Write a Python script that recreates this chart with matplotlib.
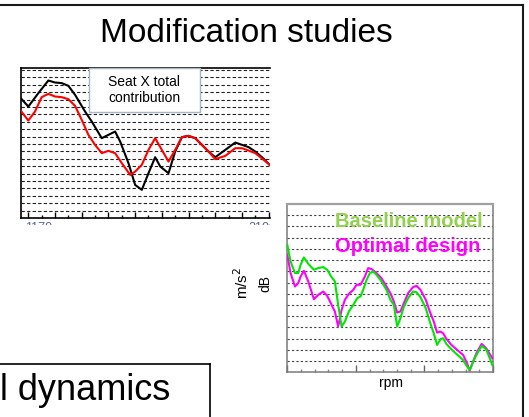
"""
Modification studies slide — two cropped response plots in one frame.
"""
import matplotlib
matplotlib.use("Agg")
import matplotlib.pyplot as plt
from matplotlib.lines import Line2D
from matplotlib.patches import Rectangle
from matplotlib.transforms import Bbox
from matplotlib.ticker import MultipleLocator, NullFormatter

plt.rcParams["font.family"] = ["Liberation Sans", "DejaVu Sans"]

W, H = 529, 417  # pixels at dpi 100

# ── Data: left chart (seat X total contribution) ─────────────────────────────
seat_black_x = [-0.57, 0, 0.75, 1.5, 2.0, 2.5, 3.0, 3.5, 4.25, 4.75, 5.5, 6.5, 6.88,
                7.5, 8.0, 8.5, 9.0, 9.5, 9.88, 10.5, 11.0, 11.5, 12.0, 12.5, 13.0,
                13.5, 14.0, 14.75, 15.5, 16.0, 16.5, 17.0, 17.5, 18.08]
seat_black_y = [15.19, 14.05, 15.86, 17.57, 17.30, 17.22, 16.85, 15.64, 13.38, 12.03,
                9.78, 10.68, 9.32, 6.41, 3.47, 2.80, 5.05, 7.21, 5.95, 5.05, 7.97,
                9.92, 10.09, 9.78, 8.88, 7.97, 7.21, 8.20, 9.19, 8.88, 8.57, 7.97,
                7.21, 6.18]
seat_red_x = [-0.57, 0, 0.5, 1.0, 1.5, 2.0, 2.5, 3.0, 3.5, 4.0, 4.5, 5.0, 5.5, 6.0,
              6.5, 7.0, 7.63, 8.0, 8.5, 9.0, 9.5, 10.0, 10.5, 11.0, 11.5, 12.0, 12.5,
              13.0, 13.5, 14.0, 14.75, 15.5, 16.0, 16.5, 17.0, 17.5, 18.08]
seat_red_y = [13.51, 12.16, 13.38, 15.32, 15.77, 15.41, 15.32, 15.05, 14.15, 12.26,
              10.23, 8.88, 7.76, 8.07, 7.76, 6.41, 4.82, 5.27, 6.18, 8.20, 9.78, 8.20,
              6.62, 8.20, 9.92, 10.09, 9.78, 8.88, 7.97, 6.95, 7.39, 8.43, 8.43, 8.11,
              7.76, 7.04, 6.18]
seat_legend = "Seat X total\ncontribution"
seat_tick_frag = ["1170", "2100"]

# ── Data: right chart (baseline vs optimal) ──────────────────────────────────
base_x = [0, 0.24, 0.56, 0.80, 0.97, 1.21, 1.53, 1.94, 2.26, 2.62, 2.91, 3.23, 3.47,
          3.71, 3.96, 4.20, 4.49, 4.81, 5.10, 5.34, 5.53, 5.78, 6.02, 6.26, 6.50,
          6.87, 7.23, 7.52, 7.77, 8.01, 8.25, 8.50, 8.81, 9.17, 9.42, 9.71, 10.10,
          10.39, 10.68, 10.92, 11.17, 11.36, 11.60, 11.97, 12.33, 12.82, 13.11,
          13.30, 13.50, 13.79, 14.17, 14.51, 14.95]
base_y = [11.37, 9.88, 8.84, 8.84, 9.58, 10.24, 9.67, 9.14, 9.29, 9.38, 9.14, 8.48,
          8.10, 6.01, 4.08, 4.52, 5.42, 6.01, 6.61, 6.76, 7.35, 8.24, 8.84, 8.99,
          8.69, 8.10, 7.35, 6.46, 6.01, 4.08, 4.82, 5.86, 6.61, 7.20, 7.14, 6.70,
          5.71, 4.52, 3.48, 2.44, 2.95, 3.04, 2.53, 2.05, 1.64, 1.10, 0.51, 0.21,
          0.80, 1.55, 2.35, 2.05, 0.65]
opt_x = [0, 0.24, 0.56, 0.80, 0.97, 1.21, 1.53, 1.94, 2.26, 2.62, 2.91, 3.23, 3.47,
         3.71, 3.96, 4.20, 4.49, 4.81, 5.05, 5.34, 5.66, 5.90, 6.14, 6.46, 6.87,
         7.23, 7.52, 7.77, 8.01, 8.25, 8.50, 8.81, 9.17, 9.42, 9.71, 10.10, 10.39,
         10.68, 10.92, 11.17, 11.36, 11.60, 11.97, 12.33, 12.82, 13.11, 13.30,
         13.50, 13.79, 14.17, 14.51, 14.95]
opt_y = [10.48, 8.84, 7.65, 7.95, 8.54, 9.05, 8.10, 6.52, 6.90, 7.20, 6.82, 6.01,
         5.42, 4.08, 5.57, 6.46, 6.99, 7.35, 7.80, 7.80, 8.54, 9.29, 9.20, 8.90,
         8.39, 7.65, 7.05, 6.31, 5.33, 5.42, 6.16, 7.05, 7.59, 7.71, 7.35, 6.46,
         5.42, 4.52, 3.54, 3.63, 3.48, 2.98, 2.44, 2.05, 1.55, 0.80, 0.15, 0.80,
         1.70, 2.53, 2.14, 1.25]
legend_labels = ["Baseline model", "Optimal design"]


def box(l, t, r, b):
    """Pixel box (left, top, right, bottom) -> figure fraction rect."""
    return [l / W, 1 - b / H, (r - l) / W, (b - t) / H]


def fx(x):
    return x / W


def fy(y):
    return 1 - y / H


fig = plt.figure(figsize=(W / 100, H / 100), dpi=100)

# ── Slide frame and title ────────────────────────────────────────────────────
fig.add_artist(Line2D([0, fx(522.7)], [fy(5.3)] * 2, color="#1a1a1a", lw=1.5))
fig.add_artist(Line2D([fx(522.7)] * 2, [fy(5.3), -0.05], color="#1a1a1a", lw=1.5))
fig.text(fx(246), fy(42), "Modification studies", ha="center", va="baseline",
         fontsize=24, color="black")

# ── Left chart ───────────────────────────────────────────────────────────────
ax1 = fig.add_axes(box(20.7, 67.7, 270, 218))
ax1.plot(seat_black_x, seat_black_y, color="black", lw=1.5, zorder=3)
ax1.plot(seat_red_x, seat_red_y, color="#ff0000", lw=1.5, zorder=3)
ax1.set_xlim(-0.57, 18.1)
ax1.set_ylim(-1.0, 19.3)
ax1.set_yticks(range(0, 20))
ax1.yaxis.grid(True, color="#222222", linestyle=(0, (3, 2)), lw=0.8)
ax1.xaxis.set_major_locator(MultipleLocator(2))
ax1.xaxis.set_minor_locator(MultipleLocator(1))
ax1.xaxis.set_major_formatter(NullFormatter())
ax1.tick_params(axis="x", which="major", direction="in", length=4.5, width=1,
                color="black")
ax1.tick_params(axis="x", which="minor", direction="in", length=2.2, width=1,
                color="black")
ax1.tick_params(axis="y", length=0, labelleft=False)
ax1.spines["right"].set_visible(False)
for s in ("left", "top", "bottom"):
    ax1.spines[s].set_linewidth(1.2)
    ax1.spines[s].set_color("black")

fig.add_artist(Rectangle((fx(89.3), fy(111.7)), fx(200) - fx(89.3),
                         fy(68.3) - fy(111.7), transform=fig.transFigure,
                         facecolor="white", edgecolor="#a8b6c6", lw=1.0, zorder=2))
fig.text(fx(144.5), fy(90), seat_legend, ha="center", va="center", fontsize=10,
         linespacing=1.25, zorder=3)

# tick labels cut off by the crop of the original image
clip = Bbox.from_extents(0, H - 225, 270, H - 218)
for label, x in zip(seat_tick_frag, [39, 262]):
    t = fig.text(fx(x), fy(227.5), label, ha="center", va="center", fontsize=9,
                 color="#56688a")
    t.set_clip_on(True)
    t.set_clip_box(clip)

# ── Right chart ──────────────────────────────────────────────────────────────
ax2 = fig.add_axes(box(287.3, 204, 493, 372.3))
ax2.plot(opt_x, opt_y, color="#ff00ff", lw=1.5, zorder=3)
ax2.plot(base_x, base_y, color="#00e600", lw=1.5, zorder=3)
ax2.set_xlim(0, 15)
ax2.set_ylim(0, 15)
ax2.set_yticks(range(1, 15))
ax2.yaxis.grid(True, color="#444444", linestyle=(0, (2, 2)), lw=0.8)
ax2.xaxis.set_major_locator(MultipleLocator(5))
ax2.xaxis.set_minor_locator(MultipleLocator(1))
ax2.xaxis.set_major_formatter(NullFormatter())
ax2.tick_params(axis="x", which="major", direction="in", length=5, width=1,
                color="#666666")
ax2.tick_params(axis="x", which="minor", direction="in", length=2.5, width=1,
                color="#888888")
ax2.tick_params(axis="y", length=0, labelleft=False)
for s in ax2.spines.values():
    s.set_color("#7a7a7a")
    s.set_linewidth(1.1)
ax2.spines["top"].set_color("#a0a0a0")
ax2.spines["top"].set_linewidth(1.6)

fig.text(fx(482.7), fy(221), legend_labels[0], ha="right", va="center",
         fontsize=14.5, fontweight="bold", color="#92d050")
fig.text(fx(480.7), fy(246.5), legend_labels[1], ha="right", va="center",
         fontsize=14.5, fontweight="bold", color="#ff00ff")

fig.text(fx(241.5), fy(283), "m/s$^2$", rotation=90, ha="center", va="center",
         fontsize=11)
fig.text(fx(265), fy(283), "dB", rotation=90, ha="center", va="center",
         fontsize=10)
fig.text(fx(391), fy(383), "rpm", ha="center", va="center", fontsize=10)

# ── Bottom-left caption box ──────────────────────────────────────────────────
fig.add_artist(Line2D([0, fx(209.5)], [fy(364)] * 2, color="black", lw=1.2))
fig.add_artist(Line2D([fx(209.5)] * 2, [fy(364), -0.05], color="black", lw=1.2))
fig.text(fx(0.5), fy(399.5), "l dynamics", ha="left", va="baseline", fontsize=26)

fig.savefig("out.png", dpi=100)
